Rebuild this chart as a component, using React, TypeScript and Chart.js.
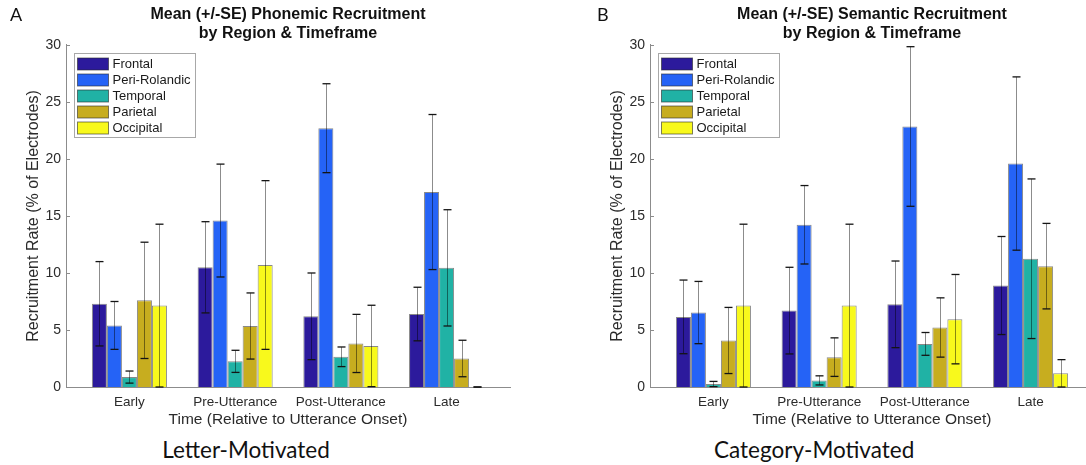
import React, { useEffect, useRef } from "react";
import { Chart, registerables } from "chart.js";
Chart.register(...registerables);

const timeframes = ["Early", "Pre-Utterance", "Post-Utterance", "Late"];
const regions = ["Frontal", "Peri-Rolandic", "Temporal", "Parietal", "Occipital"];
const regionColors = ["#2c1a9c", "#2563f6", "#20b2a5", "#c7ad1f", "#f8f91c"];

// A: Letter-Motivated (phonemic) means and standard errors, per region over timeframes
const phonFrontal = [7.3, 10.5, 6.2, 6.4];
const phonFrontalSE = [3.7, 4.0, 3.8, 2.35];
const phonPeri = [5.4, 14.6, 22.7, 17.1];
const phonPeriSE = [2.1, 4.95, 3.9, 6.8];
const phonTemporal = [0.87, 2.25, 2.65, 10.45];
const phonTemporalSE = [0.53, 0.97, 0.86, 5.1];
const phonParietal = [7.6, 5.35, 3.82, 2.5];
const phonParietalSE = [5.1, 2.9, 2.55, 1.6];
const phonOccipital = [7.14, 10.7, 3.6, 0];
const phonOccipitalSE = [7.14, 7.4, 3.57, 0];

// B: Category-Motivated (semantic) means and standard errors
const semFrontal = [6.15, 6.7, 7.25, 8.9];
const semFrontalSE = [3.23, 3.8, 3.8, 4.3];
const semPeri = [6.53, 14.23, 22.85, 19.6];
const semPeriSE = [2.73, 3.44, 7.0, 7.6];
const semTemporal = [0.26, 0.58, 3.78, 11.25];
const semTemporalSE = [0.23, 0.4, 1.0, 7.0];
const semParietal = [4.08, 2.62, 5.22, 10.6];
const semParietalSE = [2.9, 1.69, 2.6, 3.75];
const semOccipital = [7.14, 7.14, 5.95, 1.2];
const semOccipitalSE = [7.14, 7.14, 3.92, 1.2];

const FONT = "'Liberation Sans', Arial, Helvetica, sans-serif";
const AXIS_COLOR = "#8c8c8c";
const TEXT_COLOR = "#2b2b2b";

const matlabPlugin = {
  id: "matlabExtras",
  afterDatasetsDraw(chart: any) {
    const { ctx, chartArea, scales } = chart;
    const y = scales.y;
    ctx.save();
    ctx.beginPath();
    ctx.rect(chartArea.left, chartArea.top - 2, chartArea.right - chartArea.left, chartArea.bottom - chartArea.top + 3);
    ctx.clip();
    const line = (x1: number, y1: number, x2: number, y2: number) => {
      ctx.beginPath();
      ctx.moveTo(x1, y1);
      ctx.lineTo(x2, y2);
      ctx.stroke();
    };
    chart.data.datasets.forEach((ds: any, k: number) => {
      const meta = chart.getDatasetMeta(k);
      meta.data.forEach((bar: any, i: number) => {
        const v = ds.data[i].y;
        const se = ds.se[i];
        const x = Math.round(bar.x) + 0.5;
        const yHi = y.getPixelForValue(v + se);
        const yLo = y.getPixelForValue(v - se);
        ctx.strokeStyle = "rgba(0,0,0,0.45)";
        ctx.lineWidth = 1;
        line(x, yHi, x, yLo);
        ctx.strokeStyle = "#141414";
        ctx.lineWidth = 1.3;
        line(x - 4, yHi, x + 4, yHi);
        line(x - 4, yLo, x + 4, yLo);
      });
    });
    ctx.restore();
  },
  afterDraw(chart: any) {
    const { ctx, chartArea, scales } = chart;
    const y = scales.y;
    ctx.save();
    // inward tick marks on the y axis
    ctx.strokeStyle = AXIS_COLOR;
    ctx.lineWidth = 1;
    y.ticks.forEach((t: any) => {
      const py = Math.round(y.getPixelForValue(t.value)) + 0.5;
      ctx.beginPath();
      ctx.moveTo(chartArea.left, py);
      ctx.lineTo(chartArea.left + 4, py);
      ctx.stroke();
    });
    // legend box inside the axes
    const lx = Math.round(chartArea.left) + 8.5;
    const ly = Math.round(chartArea.top) + 8.5;
    const bw = 121;
    const bh = 84;
    ctx.fillStyle = "#ffffff";
    ctx.fillRect(lx, ly, bw, bh);
    ctx.strokeStyle = "#a8a8a8";
    ctx.strokeRect(lx, ly, bw, bh);
    ctx.font = `13px ${FONT}`;
    ctx.textBaseline = "middle";
    ctx.textAlign = "left";
    chart.data.datasets.forEach((ds: any, k: number) => {
      const cy = ly + 10.5 + k * 16;
      ctx.fillStyle = ds.backgroundColor;
      ctx.fillRect(lx + 3, cy - 6, 31, 12);
      ctx.strokeStyle = "rgba(40,40,40,0.6)";
      ctx.strokeRect(lx + 3, cy - 6, 31, 12);
      ctx.fillStyle = "#1a1a1a";
      ctx.fillText(ds.label, lx + 38, cy + 0.5);
    });
    ctx.restore();
  },
};

type PanelProps = { left: number; titleLines: string[]; means: number[][]; ses: number[][] };

function Panel({ left, titleLines, means, ses }: PanelProps) {
  const ref = useRef<HTMLCanvasElement>(null);
  useEffect(() => {
    const canvas = ref.current as HTMLCanvasElement;
    const chart = new Chart(canvas, {
      type: "bar",
      data: {
        datasets: regions.map((r, k) => ({
          label: r,
          data: means[k].map((v, i) => ({ x: i + 1, y: v })),
          se: ses[k],
          backgroundColor: regionColors[k],
          borderColor: "rgba(40,40,40,0.55)",
          borderWidth: 1,
          barPercentage: 1,
          categoryPercentage: 0.71,
        })) as any,
      },
      options: {
        responsive: false,
        animation: false,
        devicePixelRatio: 1,
        layout: { padding: { left: 0, right: 2, top: 0, bottom: 0 } },
        plugins: {
          legend: { display: false },
          tooltip: { enabled: false },
          title: {
            display: true,
            text: titleLines,
            fullSize: false,
            color: "#111",
            font: { family: FONT, size: 16, weight: "bold", lineHeight: 1.16 },
            padding: { top: 5.75, bottom: 2.1 },
          },
        },
        scales: {
          x: {
            type: "linear",
            min: 0.4,
            max: 4.6,
            offset: false,
            grid: { display: false, drawTicks: false },
            border: { display: true, color: AXIS_COLOR, width: 1 },
            afterBuildTicks: (s: any) => {
              s.ticks = timeframes.map((_, i) => ({ value: i + 1 }));
            },
            ticks: {
              callback: (v: any) => timeframes[Number(v) - 1] ?? "",
              autoSkip: false,
              maxRotation: 0,
              padding: 7,
              color: TEXT_COLOR,
              font: { family: FONT, size: 13.5 },
            },
            title: {
              display: true,
              text: "Time (Relative to Utterance Onset)",
              color: TEXT_COLOR,
              font: { family: FONT, size: 15.5 },
              padding: { top: 0, bottom: 2.7 },
            },
            afterFit: (s: any) => {
              s.height = 45;
            },
          },
          y: {
            min: 0,
            max: 30,
            grid: { display: false, drawTicks: false },
            border: { display: true, color: AXIS_COLOR, width: 1 },
            ticks: {
              stepSize: 5,
              padding: 5,
              color: TEXT_COLOR,
              font: { family: FONT, size: 14 },
            },
            title: {
              display: true,
              text: "Recruitment Rate (% of Electrodes)",
              color: TEXT_COLOR,
              font: { family: FONT, size: 16 },
              padding: { top: 24.4, bottom: 0 },
            },
            afterFit: (s: any) => {
              s.width = 66;
            },
          },
        },
      } as any,
      plugins: [matlabPlugin as any],
    });
    return () => chart.destroy();
  }, []);
  return (
    <canvas
      ref={ref}
      width={512}
      height={432}
      style={{ position: "absolute", left, top: 0, width: 512, height: 432 }}
    />
  );
}

const labelStyle: React.CSSProperties = {
  position: "absolute",
  fontFamily: "Lato, 'Open Sans', sans-serif",
  color: "#111",
  whiteSpace: "nowrap",
};

export default function App() {
  return (
    <div style={{ position: "absolute", left: 0, top: 0, width: 1086, height: 465, background: "#fff", overflow: "hidden" }}>
      <Panel
        left={0}
        titleLines={["Mean (+/-SE) Phonemic Recruitment", "by Region & Timeframe"]}
        means={[phonFrontal, phonPeri, phonTemporal, phonParietal, phonOccipital]}
        ses={[phonFrontalSE, phonPeriSE, phonTemporalSE, phonParietalSE, phonOccipitalSE]}
      />
      <Panel
        left={584}
        titleLines={["Mean (+/-SE) Semantic Recruitment", "by Region & Timeframe"]}
        means={[semFrontal, semPeri, semTemporal, semParietal, semOccipital]}
        ses={[semFrontalSE, semPeriSE, semTemporalSE, semParietalSE, semOccipitalSE]}
      />
      <div style={{ ...labelStyle, left: 10, top: 3, fontSize: 18 }}>A</div>
      <div style={{ ...labelStyle, left: 597, top: 3, fontSize: 18 }}>B</div>
      <div style={{ ...labelStyle, left: 146, width: 200, textAlign: "center", top: 436, fontSize: 22.5 }}>Letter-Motivated</div>
      <div style={{ ...labelStyle, left: 714, width: 200, textAlign: "center", top: 436, fontSize: 22.5 }}>Category-Motivated</div>
    </div>
  );
}
